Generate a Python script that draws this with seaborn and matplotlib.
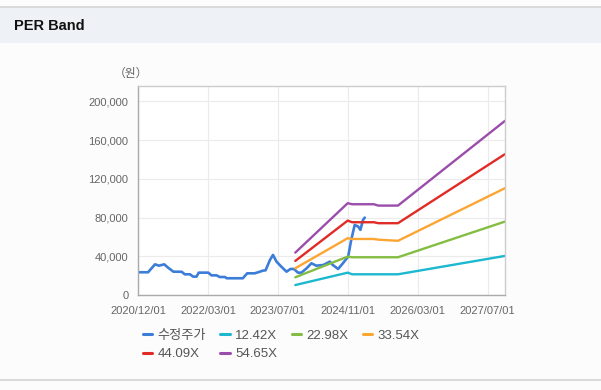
import matplotlib
matplotlib.use('Agg')
import matplotlib.pyplot as plt
import matplotlib.ticker as mticker
from matplotlib.lines import Line2D
from matplotlib.patches import Rectangle
import seaborn as sns

# month index 0 = 2020/12
tick_pos = [0, 16, 32, 48, 64, 80]
tick_labels = ['2020/12/01', '2022/03/01', '2023/07/01',
               '2024/11/01', '2026/03/01', '2027/07/01']

price_x = [0, 2.3, 3.9, 4.8, 6, 6.9, 8.1, 10, 10.7, 11.9, 12.6, 13.4, 13.9,
           16.1, 16.8, 18, 18.7, 19.9, 20.3, 24, 25, 26.7, 27.9, 28.6, 29.2,
           30.2, 30.9, 31.7, 32.8, 34, 34.9, 35.7, 36.6, 37.4, 38.6, 39.7,
           40.8, 42.4, 43.9, 44.6, 45.8, 46.9, 48.1, 48.8, 49.6, 50.4, 50.9,
           51.5, 51.9]
price_y = [23500, 23500, 31700, 30300, 31700, 28200, 24100, 24000, 21400,
           21400, 19000, 19000, 23100, 23100, 20300, 20300, 18600, 18600,
           17300, 17300, 22400, 22400, 24100, 25200, 25500, 36200, 41400,
           34500, 29300, 24100, 26900, 26900, 23100, 23100, 27600, 32800,
           30300, 31000, 34500, 31000, 26900, 32800, 39700, 56900, 72400,
           70700, 67300, 77600, 80000]

band_x = [36, 48, 49, 54, 55, 59.5, 84]
band_1242 = [10300, 23100, 21400, 21400, 21400, 21400, 40400]
band_2298 = [18300, 39700, 39000, 39000, 39000, 39000, 75900]
band_3354 = [27600, 58700, 57900, 57900, 57200, 56000, 110400]
band_4409 = [35200, 76900, 75200, 75200, 74200, 74200, 145600]
band_5465 = [43800, 94900, 93800, 93800, 92400, 92400, 180000]

series_names = ['수정주가', '12.42X', '22.98X', '33.54X', '44.09X', '54.65X']
colors = ['#3b7dd8', '#1bb8cf', '#84bd43', '#fba533', '#e02b27', '#9b4dab']


def main():
    sns.set_style('white')
    plt.rcParams['font.family'] = ['Liberation Sans', 'Noto Sans CJK KR']

    fig = plt.figure(figsize=(6.01, 3.90), dpi=100, facecolor='#fcfcfc')

    # header strip
    fig.add_artist(Rectangle((0, 1 - 43 / 390), 1, 36 / 390,
                             transform=fig.transFigure,
                             facecolor='#eef2f7', edgecolor='none'))
    fig.add_artist(Line2D([0, 1], [1 - 7 / 390] * 2, color='#d4d4d4', lw=1.2))
    fig.add_artist(Line2D([0, 1], [1 - 380 / 390] * 2, color='#d4d4d4', lw=1.2))
    fig.text(14 / 601, 1 - 26 / 390, 'PER Band', fontsize=10.5,
             fontweight='bold', family=['Liberation Sans', 'DejaVu Sans'],
             va='center', color='#111111')

    ax = fig.add_axes([138 / 601, 1 - 295 / 390, 367 / 601, 209 / 390])
    ax.set_facecolor('white')

    bands = [band_1242, band_2298, band_3354, band_4409, band_5465]
    sns.lineplot(x=price_x, y=price_y, ax=ax, color=colors[0], lw=1.9)
    for vals, col in zip(bands, colors[1:]):
        sns.lineplot(x=band_x, y=vals, ax=ax, color=col, lw=1.7)

    ax.set_xlim(0, 84)
    ax.set_ylim(0, 216000)
    ax.set_xticks(tick_pos)
    ax.set_xticklabels(tick_labels)
    ax.set_yticks(range(0, 200001, 40000))
    ax.yaxis.set_major_formatter(mticker.StrMethodFormatter('{x:,.0f}'))
    ax.grid(True, color='#ebebeb', lw=0.8)
    ax.set_axisbelow(True)
    ax.tick_params(axis='both', labelsize=8, colors='#666666', length=4,
                   width=0.8, direction='out', pad=3)
    ax.tick_params(axis='x', pad=4)
    for side in ['top', 'right']:
        ax.spines[side].set_color('#cccccc')
    for side in ['left', 'bottom']:
        ax.spines[side].set_color('#aaaaaa')
    for s in ax.spines.values():
        s.set_linewidth(1)

    fig.text(131 / 601, 1 - 73 / 390, '（원）', fontsize=8.5, color='#666666',
             family=['Noto Sans CJK KR'], ha='center', va='center')

    # row-major order for a 4-column legend
    order = [0, 4, 1, 5, 2, 3]
    handles = [Line2D([], [], color=colors[i], lw=2.2) for i in order]
    labels = [series_names[i] for i in order]
    ax.legend(handles, labels, ncol=4, loc='upper left',
              bbox_to_anchor=(131 / 601, 1 - 318 / 390),
              bbox_transform=fig.transFigure, frameon=False, fontsize=9.5,
              handlelength=0.7, handletextpad=0.4, columnspacing=1.1,
              labelspacing=0.45, labelcolor='#555555')

    fig.savefig('out.png', dpi=100, facecolor=fig.get_facecolor())


if __name__ == '__main__':
    main()
